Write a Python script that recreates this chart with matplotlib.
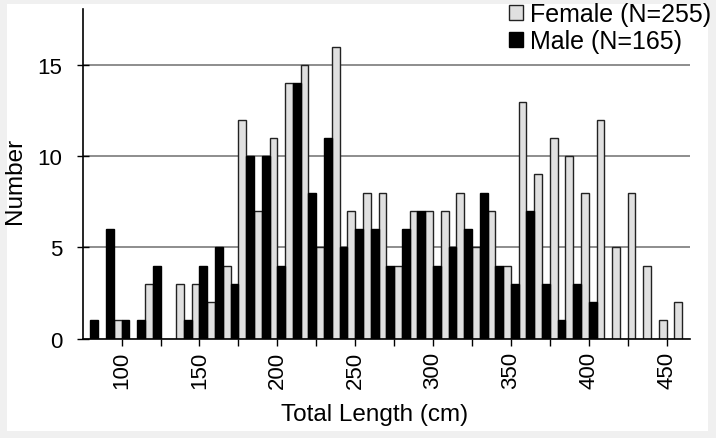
import matplotlib
matplotlib.use("Agg")
import matplotlib.pyplot as plt
from matplotlib.patches import Rectangle, Patch
import numpy as np

plt.rcParams['font.family'] = ['Liberation Sans', 'DejaVu Sans']

# Length classes (cm, class centre)
lengths = [80, 90, 100, 110, 120, 130, 140, 150, 160, 170, 180, 190, 200,
           210, 220, 230, 240, 250, 260, 270, 280, 290, 300, 310, 320, 330,
           340, 350, 360, 370, 380, 390, 400, 410, 420, 430, 440, 450, 460]
female = [0, 0, 1, 0, 3, 0, 3, 3, 2, 4, 12, 7, 11,
          14, 15, 5, 16, 7, 8, 8, 4, 7, 7, 7, 8, 5,
          7, 4, 13, 9, 11, 10, 8, 12, 5, 8, 4, 1, 2]
male = [1, 6, 1, 1, 4, 0, 1, 4, 5, 3, 10, 10, 4,
        14, 8, 11, 5, 6, 6, 4, 6, 7, 4, 5, 6, 8,
        4, 3, 7, 3, 1, 3, 2, 0, 0, 0, 0, 0, 0]
female_label = "Female (N=255)"
male_label = "Male (N=165)"
xtick_labels = [100, 150, 200, 250, 300, 350, 400, 450]
yticks = [0, 5, 10, 15]

W, H = 716, 439
fig = plt.figure(figsize=(W / 100, H / 100), dpi=100)
fig.patch.set_facecolor('#f0f0f0')
fig.patches.append(Rectangle((7 / W, 1 - 432 / H), (708 - 7) / W, (432 - 5) / H,
                             transform=fig.transFigure, facecolor='white',
                             edgecolor='none', zorder=-10))

ax = fig.add_axes([82.7 / W, 1 - 339.7 / H, (690 - 82.7) / W, (339.7 - 10) / H])
ax.set_facecolor('white')

x = np.array(lengths, dtype=float)
bw = 5.0
ax.bar(x - bw / 2, female, width=bw, color='#e0e0e0', edgecolor='#222222',
       linewidth=1.0, zorder=3)
ax.bar(x + bw / 2, male, width=bw, color='black', edgecolor='black',
       linewidth=1.0, zorder=3)

ax.set_xlim(lengths[0] - 5, lengths[-1] + 5)
ax.set_ylim(0, 18.07)

for g in yticks[1:]:
    ax.axhline(g, color='#7a7a7a', linewidth=1.2, zorder=1)

ax.set_yticks(yticks)
ax.set_yticklabels([str(v) for v in yticks], fontsize=16)
ax.set_xticks(np.arange(100, 451, 25))
ax.set_xticklabels([str(v) if v in xtick_labels else '' for v in np.arange(100, 451, 25)],
                   rotation=90, fontsize=16)
ax.tick_params(axis='y', direction='inout', length=8.5, width=1, pad=10.5, colors='black')
ax.tick_params(axis='x', direction='out', length=5, width=1, pad=3.5, colors='black')

for s in ['top', 'right']:
    ax.spines[s].set_visible(False)
for s in ['left', 'bottom']:
    ax.spines[s].set_linewidth(1.2)
    ax.spines[s].set_zorder(5)

fig.text(375 / W, 1 - 415 / H, "Total Length (cm)", ha='center', va='center', fontsize=17.5)
fig.text(15 / W, 1 - 181 / H, "Number", ha='center', va='center', rotation=90, fontsize=17.5)

handles = [Patch(facecolor='#e0e0e0', edgecolor='#222222', linewidth=1.0),
           Patch(facecolor='black', edgecolor='black')]
leg = ax.legend(handles, [female_label, male_label], loc='upper left',
                bbox_to_anchor=(509 / W, 1 - 3 / H), bbox_transform=fig.transFigure,
                frameon=False, fontsize=18, handlelength=0.56, handleheight=0.56,
                handletextpad=0.3, labelspacing=0.13, borderpad=0, borderaxespad=0)
leg.set_zorder(10)

fig.savefig("out.png", dpi=100, facecolor=fig.get_facecolor())
